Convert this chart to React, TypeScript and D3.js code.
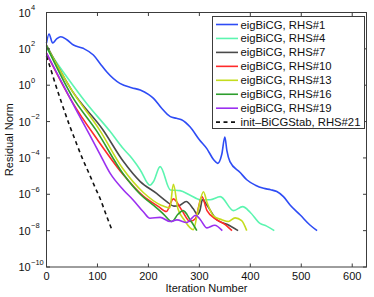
import React from "react";
import * as d3 from "d3";

type P = [number, number];

const seriesNames = [
  "eigBiCG, RHS#1",
  "eigBiCG, RHS#4",
  "eigBiCG, RHS#7",
  "eigBiCG, RHS#10",
  "eigBiCG, RHS#13",
  "eigBiCG, RHS#16",
  "eigBiCG, RHS#19",
  "init\u2013BiCGStab, RHS#21",
];
const seriesColors = ["#2e4cf5", "#5cf5b0", "#4a4a4a", "#ff2a2a", "#c4dc1e", "#2e9e2e", "#9b30f0", "#111111"];

// [iteration, log10(residual)]
const rhs1: P[] = [[0,2.32],[5,2.82],[12,2.32],[20,2.55],[28,2.67],[40,2.5],[53,2.21],[72,2.03],[92,1.66],[105,1.2],[118,0.74],[144,0.1],[167,-0.14],[184,-0.26],[200,-0.5],[210,-0.72],[226,-1.27],[243,-1.73],[255,-1.82],[265,-1.9],[282,-2.3],[300,-3.0],[315,-3.5],[328,-4.1],[336,-4.3],[344,-3.8],[350,-2.85],[354,-3.6],[360,-4.2],[380,-4.8],[393,-5.2],[410,-5.5],[426,-5.67],[440,-5.75],[452,-5.85],[465,-6.13],[478,-6.59],[498,-7.14],[517,-7.69],[531,-8.0]];
const rhs4: P[] = [[0,2.05],[40,0.45],[80,-1.05],[125,-2.55],[151,-3.5],[164,-3.9],[184,-4.66],[203,-5.5],[210,-5.3],[223,-4.48],[243,-5.76],[262,-5.8],[282,-6.05],[302,-6.3],[321,-6.3],[341,-6.13],[367,-6.9],[385,-6.68],[400,-7.0],[419,-7.6],[432,-7.75],[447,-8.0]];
const rhs7: P[] = [[0,2.2],[50,-0.3],[111,-2.46],[151,-4.2],[184,-5.3],[216,-5.95],[236,-6.4],[250,-6.65],[262,-6.6],[274,-6.4],[288,-6.8],[296,-7.1],[301,-6.9],[306,-6.3],[315,-6.6],[334,-7.4],[354,-7.65],[376,-8.0]];
const rhs10: P[] = [[0,1.75],[50,-0.9],[100,-3.0],[150,-4.9],[190,-6.1],[220,-6.68],[235,-6.95],[249,-6.25],[265,-6.85],[282,-7.5],[292,-7.35],[305,-6.13],[315,-6.9],[334,-7.4],[350,-7.65],[364,-8.0]];
const rhs13: P[] = [[0,2.15],[50,-0.3],[105,-2.5],[150,-4.6],[190,-5.9],[225,-6.6],[242,-6.75],[249,-5.45],[258,-6.8],[270,-7.4],[288,-7.95],[298,-6.8],[308,-5.86],[315,-6.45],[328,-7.2],[344,-7.4],[357,-7.5],[370,-7.3],[383,-7.45],[393,-8.0]];
const rhs16: P[] = [[0,2.15],[50,-0.6],[98,-2.5],[151,-4.9],[184,-6.0],[216,-6.75],[230,-7.1],[246,-7.5],[258,-7.1],[268,-6.9],[282,-7.4],[295,-8.0]];
const rhs19: P[] = [[0,1.76],[30,0.15],[60,-1.45],[85,-2.74],[105,-3.8],[125,-4.85],[151,-5.76],[170,-6.31],[190,-6.96],[203,-7.32],[223,-7.27],[243,-7.5],[256,-7.41],[275,-7.55],[293,-7.15],[302,-7.4],[315,-7.85],[330,-7.7],[345,-8.0]];
const rhs21: P[] = [[0,1.6],[7,1.0],[17,0.1],[30,-1.0],[45,-2.2],[56,-3.0],[70,-4.0],[82,-4.76],[95,-5.6],[105,-6.22],[118,-7.2],[128,-7.93]];

const allSeries = [rhs1, rhs4, rhs7, rhs10, rhs13, rhs16, rhs19, rhs21];

const xTicks = [0, 100, 200, 300, 400, 500, 600];
const yTickExps = [4, 2, 0, -2, -4, -6, -8, -10];

const W = 374, H = 297;
const left = 46.5, right = 366.5, top = 12.5, bottom = 267;

export default function App() {
  const x = d3.scaleLinear().domain([0, 628]).range([left, right]);
  const y = d3.scaleLog().domain([1e-10, 1e4]).range([bottom, top]);
  const line = d3
    .line<P>()
    .x((d) => x(d[0]))
    .y((d) => y(Math.pow(10, d[1])))
    .curve(d3.curveMonotoneX);

  const font = "'Liberation Sans', Arial, Helvetica, sans-serif";
  const axisColor = "#3c3c3c";
  const tickLen = 3.5;

  const legX = 212.5, legY = 16.5, legW = 152, legH = 112;
  const rowY0 = 24.5, rowDy = 13.95;

  return (
    <svg width={W} height={H} style={{ position: "absolute", left: 0, top: 0, background: "#fff" }} fontFamily={font}>
      <rect x={0} y={0} width={W} height={H} fill="#fff" />
      {/* series */}
      {allSeries.map((s, i) => (
        <path
          key={i}
          d={line(s) || ""}
          fill="none"
          stroke={seriesColors[i]}
          strokeWidth={1.6}
          strokeDasharray={i === 7 ? "4,3.5" : undefined}
          strokeLinejoin="round"
        />
      ))}
      {/* axes box */}
      <rect x={left} y={top} width={right - left} height={bottom - top} fill="none" stroke={axisColor} strokeWidth={1} />
      {xTicks.map((t) => (
        <g key={"x" + t}>
          <line x1={x(t)} x2={x(t)} y1={bottom} y2={bottom - tickLen} stroke={axisColor} />
          <line x1={x(t)} x2={x(t)} y1={top} y2={top + tickLen} stroke={axisColor} />
          <text x={x(t)} y={280} fontSize={11} textAnchor="middle" fill="#111">{t}</text>
        </g>
      ))}
      {yTickExps.map((e) => {
        const yy = y(Math.pow(10, e));
        return (
          <g key={"y" + e}>
            <line x1={left} x2={left + tickLen} y1={yy} y2={yy} stroke={axisColor} />
            <line x1={right} x2={right - tickLen} y1={yy} y2={yy} stroke={axisColor} />
            <text x={18.5} y={yy + 4} fontSize={11} fill="#111">10</text>
            <text x={31} y={yy - 2.5} fontSize={7.5} fill="#111">{e < 0 ? "\u2212" + Math.abs(e) : String(e)}</text>
          </g>
        );
      })}
      <text x={(left + right) / 2} y={292} fontSize={11} textAnchor="middle" fill="#111">Iteration Number</text>
      <text transform={`translate(13,${(top + bottom) / 2}) rotate(-90)`} fontSize={11} textAnchor="middle" fill="#111">Residual Norm</text>
      {/* legend */}
      <rect x={legX} y={legY} width={legW} height={legH} fill="#fff" stroke={axisColor} strokeWidth={1} />
      {seriesNames.map((n, i) => {
        const yy = rowY0 + i * rowDy;
        return (
          <g key={"l" + i}>
            <line x1={216} x2={238} y1={yy} y2={yy} stroke={seriesColors[i]} strokeWidth={1.6} strokeDasharray={i === 7 ? "4,3.5" : undefined} />
            <text x={240.5} y={yy + 4} fontSize={11.3} fill="#111">{n}</text>
          </g>
        );
      })}
    </svg>
  );
}
